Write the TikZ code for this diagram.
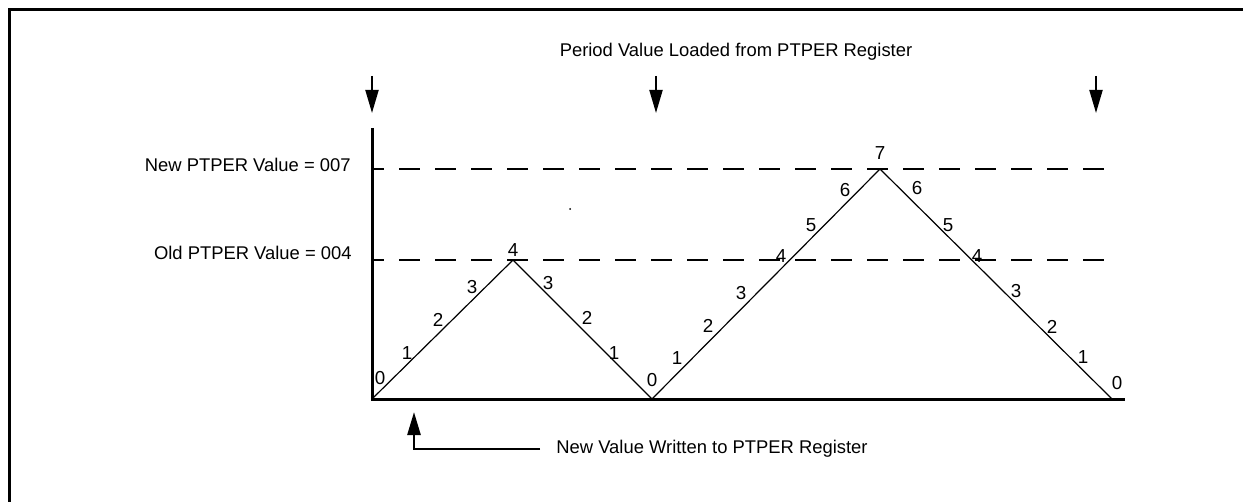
\documentclass[tikz,border=0pt]{standalone}
\usepackage{fontspec}
\setmainfont{Liberation Sans}
\usetikzlibrary{arrows.meta,positioning}
\definecolor{figline}{RGB}{0,0,0}
\tikzset{
  frameline/.style={draw=figline, line width=1.5pt},
  axisline/.style={draw=figline, line width=1.5pt},
  rampline/.style={draw=figline, line width=0.6pt, line join=miter},
  levelline/.style={draw=figline, line width=1.3pt, dash pattern=on 10.5pt off 7.5pt, dash phase=4.5pt},
  loadarrow/.style={-{Triangle[length=11.5pt,width=6.5pt]}, draw=figline, line width=1pt},
  writearrow/.style={-{Triangle[length=11.5pt,width=6.5pt]}, draw=figline, line width=1.3pt},
  countlabel/.style={font=\fontsize{9.4}{10}\selectfont, inner sep=0pt},
  figlabel/.style={font=\fontsize{9.2}{10}\selectfont, inner sep=0pt}
}
\begin{document}
\begin{tikzpicture}[x=0.5pt,y=-0.5pt]
  \useasboundingbox (0,0) rectangle (1243,502);
  % frame
  \draw[frameline] (9,502) -- (9,10) -- (1243,10);
  % axes
  \coordinate (ytop) at (372,128);
  \coordinate (orig) at (372,400);
  \coordinate (xend) at (1125,400);
  \draw[axisline] (ytop) -- (orig) -- (xend);
  % period levels
  \coordinate (new0) at (372,169);
  \coordinate (new1) at (1104,169);
  \coordinate (old0) at (372,260);
  \coordinate (old1) at (1104,260);
  \draw[levelline] (new0) -- (new1);
  \draw[levelline] (old0) -- (old1);
  \node[figlabel, anchor=east] (newval) at (351,165) {New PTPER Value = 007};
  \node[figlabel, anchor=east] (oldval) at (352,253) {Old PTPER Value = 004};
  % timer ramp
  \coordinate (z0) at (372,399);
  \coordinate (pk4) at (513,260);
  \coordinate (z1) at (652,399);
  \coordinate (pk7) at (880,169);
  \coordinate (z2) at (1112,399);
  \draw[rampline] (z0) -- (pk4) -- (z1) -- (pk7) -- (z2);
  \foreach \lbl/\px/\py [count=\k] in {0/380/378, 1/407/353, 2/438/320, 3/472/287, 4/513/250,
      3/548/283, 2/587/318, 1/614/353, 0/652/380,
      1/677/358, 2/708/326, 3/741/293, 4/781/256, 5/811/225, 6/845/190, 7/880/153,
      6/917/188, 5/948/225, 4/977/256, 3/1016/291, 2/1052/327, 1/1083/357, 0/1117/383}
    \node[countlabel] (cnt\k) at (\px,\py) {\lbl};
  \fill (570,209) circle (1);
  % period load markers
  \node[figlabel] (loadnote) at (736,52) {Period Value Loaded from PTPER Register};
  \coordinate (lda0) at (372,76);
  \coordinate (ldb0) at (372,113);
  \coordinate (lda1) at (656,76);
  \coordinate (ldb1) at (656,113);
  \coordinate (lda2) at (1096,76);
  \coordinate (ldb2) at (1096,113);
  \draw[loadarrow] (lda0) -- (ldb0);
  \draw[loadarrow] (lda1) -- (ldb1);
  \draw[loadarrow] (lda2) -- (ldb2);
  % write marker
  \node[figlabel, anchor=west, inner xsep=8pt] (writenote) at (540,449) {New Value Written to PTPER Register};
  \coordinate (wtip) at (414,412);
  \draw[writearrow] (writenote.west) -| (wtip);
\end{tikzpicture}
\end{document}
